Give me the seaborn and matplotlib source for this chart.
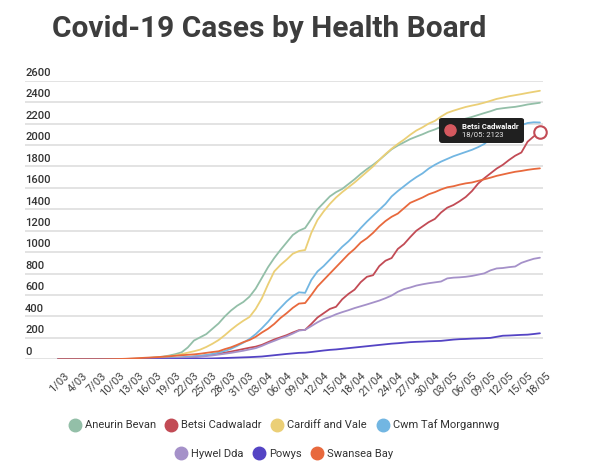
import matplotlib
matplotlib.use("Agg")
import matplotlib.pyplot as plt
import numpy as np
import pandas as pd
import seaborn as sns
from matplotlib.lines import Line2D
from matplotlib.offsetbox import TextArea, VPacker, HPacker, DrawingArea, AnnotationBbox
from matplotlib.patches import Circle
from matplotlib.transforms import ScaledTranslation

# daily cumulative cases, 1 March (day 0) to 18 May (day 78)
aneurin_bevan = [
    0, 0, 0, 0, 0, 0, 0, 0, 1, 1,
    2, 3, 5, 7, 10, 14, 19, 25, 35, 48,
    65, 110, 175, 205, 235, 285, 335, 400, 455, 500,
    535, 585, 660, 760, 860, 945, 1020, 1090, 1160, 1200,
    1225, 1310, 1400, 1460, 1520, 1560, 1590, 1635, 1680, 1730,
    1775, 1815, 1860, 1910, 1960, 1995, 2025, 2055, 2078, 2100,
    2125, 2145, 2170, 2195, 2212, 2230, 2246, 2262, 2280, 2298,
    2315, 2335, 2343, 2350, 2356, 2366, 2378, 2386, 2394,
]
betsi_cadwaladr = [
    0, 0, 0, 0, 0, 0, 0, 0, 0, 0,
    0, 1, 1, 2, 3, 4, 6, 8, 10, 13,
    16, 20, 25, 30, 36, 44, 52, 62, 72, 84,
    96, 108, 118, 135, 160, 185, 205, 225, 250, 272,
    275, 330, 390, 430, 470, 490, 560, 610, 650, 720,
    770, 785, 870, 920, 945, 1030, 1075, 1140, 1200, 1240,
    1280, 1310, 1370, 1415, 1440, 1475, 1515, 1570, 1640, 1690,
    1735, 1780, 1815, 1860, 1900, 1930, 2030, 2080, 2123,
]
cardiff_and_vale = [
    0, 0, 0, 0, 0, 0, 0, 0, 0, 1,
    1, 2, 3, 5, 8, 12, 16, 22, 28, 36,
    48, 62, 75, 90, 115, 145, 180, 225, 275, 320,
    360, 395, 470, 570, 700, 820, 880, 930, 985, 1010,
    1020, 1180, 1300, 1380, 1450, 1510, 1560, 1605, 1650, 1700,
    1750, 1800, 1860, 1915, 1965, 2010, 2050, 2095, 2135, 2165,
    2200, 2225, 2265, 2300, 2320, 2338, 2355, 2368, 2380, 2395,
    2412, 2430, 2442, 2455, 2465, 2475, 2486, 2496, 2506,
]
cwm_taf = [
    0, 0, 0, 0, 0, 0, 0, 0, 0, 0,
    0, 1, 1, 2, 3, 5, 7, 9, 12, 15,
    18, 22, 27, 33, 40, 50, 62, 78, 98, 125,
    155, 190, 235, 290, 350, 420, 480, 540, 590, 625,
    620, 740, 820, 870, 930, 990, 1050, 1100, 1160, 1225,
    1285, 1340, 1395, 1450, 1520, 1570, 1615, 1660, 1700, 1735,
    1780, 1815, 1845, 1870, 1895, 1915, 1935, 1955, 1980, 2010,
    2060, 2100, 2125, 2150, 2170, 2185, 2205, 2212, 2210,
]
hywel_dda = [
    0, 0, 0, 0, 0, 0, 0, 0, 0, 0,
    0, 0, 1, 1, 2, 3, 4, 5, 7, 9,
    12, 15, 19, 24, 30, 36, 44, 52, 60, 70,
    80, 92, 104, 125, 150, 172, 195, 215, 240, 268,
    275, 310, 345, 375, 395, 420, 440, 458, 478, 495,
    512, 530, 548, 570, 595, 630, 655, 670, 688, 700,
    710, 718, 726, 755, 762, 765, 770, 778, 790, 802,
    830, 848, 852, 860, 866, 900, 920, 938, 948,
]
powys = [
    0, 0, 0, 0, 0, 0, 0, 0, 0, 0,
    0, 0, 0, 0, 1, 1, 1, 2, 2, 3,
    3, 4, 5, 6, 7, 8, 10, 12, 14, 16,
    18, 20, 23, 26, 32, 38, 44, 50, 55, 60,
    62, 68, 75, 82, 88, 92, 98, 104, 110, 116,
    122, 128, 134, 140, 146, 150, 155, 160, 163, 165,
    168, 170, 172, 178, 184, 188, 190, 193, 195, 197,
    200, 210, 220, 222, 225, 228, 230, 236, 243,
]
swansea_bay = [
    0, 0, 0, 0, 0, 0, 0, 0, 1, 2,
    3, 5, 8, 11, 14, 17, 20, 24, 28, 33,
    38, 42, 46, 52, 60, 68, 75, 95, 112, 135,
    160, 180, 210, 250, 285, 330, 385, 430, 480, 520,
    525, 600, 680, 740, 800, 860, 920, 980, 1030, 1090,
    1130, 1180, 1240, 1290, 1330, 1360, 1410, 1460, 1485, 1510,
    1540, 1560, 1585, 1605, 1615, 1630, 1642, 1650, 1665, 1680,
    1695, 1712, 1725, 1738, 1750, 1758, 1768, 1776, 1782,
]

boards = ["Aneurin Bevan", "Betsi Cadwaladr", "Cardiff and Vale", "Cwm Taf Morgannwg",
          "Hywel Dda", "Powys", "Swansea Bay"]
series = [aneurin_bevan, betsi_cadwaladr, cardiff_and_vale, cwm_taf,
          hywel_dda, powys, swansea_bay]
colors = ["#93bfa8", "#c24b55", "#ebcf76", "#72b6e2", "#a591c9", "#5444c4", "#e8693d"]

tick_labels = ["1/03", "4/03", "7/03", "10/03", "13/03", "16/03", "19/03", "22/03",
               "25/03", "28/03", "31/03", "03/04", "06/04", "09/04", "12/04", "15/04",
               "18/04", "21/04", "24/04", "27/04", "30/04", "03/05", "06/05", "09/05",
               "12/05", "15/05", "18/05"]
y_ticks = list(range(0, 2601, 200))

days = np.arange(len(aneurin_bevan))
df = pd.concat(
    [pd.DataFrame({"day": days, "cases": vals, "board": name}) for name, vals in zip(boards, series)],
    ignore_index=True,
)

sns.set_style("white")
plt.rcParams["font.family"] = ["Roboto", "DejaVu Sans"]

fig = plt.figure(figsize=(6, 4.66), dpi=100)
ax = fig.add_axes([25 / 600, 1 - 359.3 / 466, 518 / 600, 278.6 / 466])

sns.lineplot(data=df, x="day", y="cases", hue="board", hue_order=boards,
             palette=colors, linewidth=1.3, legend=False, ax=ax)

ax.set_xlim(-5.34, 78.5)
ax.set_ylim(0, 2600)
ax.set_xlabel("")
ax.set_ylabel("")
for s in ax.spines.values():
    s.set_visible(False)

ax.set_yticks(y_ticks)
ax.set_yticklabels([str(v) for v in y_ticks])
ax.yaxis.grid(True, color="#e3e3e3", linewidth=1.4)
ax.set_axisbelow(True)
ax.tick_params(axis="y", length=0, pad=0, labelsize=8, labelcolor="#333333")
for lab in ax.get_yticklabels():
    lab.set_ha("left")
    lab.set_va("bottom")
    lab.set_fontweight("medium")
    lab.set_transform(lab.get_transform() + ScaledTranslation(0, 2 / 72, fig.dpi_scale_trans))

ax.set_xticks(days[::3])
ax.set_xticklabels(tick_labels, rotation=45, ha="right", rotation_mode="anchor")
ax.tick_params(axis="x", length=0, pad=8, labelsize=8, labelcolor="#444444")
for lab in ax.get_xticklabels():
    lab.set_transform(lab.get_transform() + ScaledTranslation(4 / 72, 0, fig.dpi_scale_trans))

# highlighted last point with tooltip
end_day = days[-1]
end_val = betsi_cadwaladr[-1]
ax.plot(end_day, end_val, marker="o", markersize=9, markerfacecolor="white",
        markeredgecolor=colors[1], markeredgewidth=1.5, clip_on=False, zorder=5)

dot = DrawingArea(8, 8, 0, 0)
dot.add_artist(Circle((4, 4), 4, color="#d5595f"))
txt = VPacker(children=[
    TextArea("Betsi Cadwaladr", textprops=dict(color="white", fontweight="bold", fontsize=5.6)),
    TextArea(f"{tick_labels[-1]}: {end_val}", textprops=dict(color="#e8e8e8", fontsize=5.6)),
], align="left", pad=0, sep=1)
tip = HPacker(children=[dot, txt], align="center", pad=0, sep=4)
ab = AnnotationBbox(tip, (end_day, end_val), xybox=(-42, 1), xycoords="data",
                    boxcoords="offset points", frameon=True, pad=0.5,
                    bboxprops=dict(boxstyle="round,pad=0.4,rounding_size=0.2",
                                   facecolor="#202020", edgecolor="none"))
ax.add_artist(ab)

fig.text(269 / 600, 1 - 29 / 466, "Covid-19 Cases by Health Board", ha="center", va="center",
         fontsize=21.5, fontweight="bold", color="#3d3d3d")

handles = [Line2D([], [], marker="o", linestyle="", markersize=9, color=c) for c in colors]
leg1 = fig.legend(handles[:4], boards[:4], loc="center", bbox_to_anchor=(284 / 600, 1 - 425 / 466),
                  ncol=4, frameon=False, fontsize=8, handletextpad=0.4, columnspacing=0.9,
                  handlelength=1.0, labelcolor="#333333")
leg2 = fig.legend(handles[4:], boards[4:], loc="center", bbox_to_anchor=(284 / 600, 1 - 454 / 466),
                  ncol=3, frameon=False, fontsize=8, handletextpad=0.4, columnspacing=0.9,
                  handlelength=1.0, labelcolor="#333333")

fig.savefig("out.png", dpi=100, facecolor="white")
plt.close(fig)
